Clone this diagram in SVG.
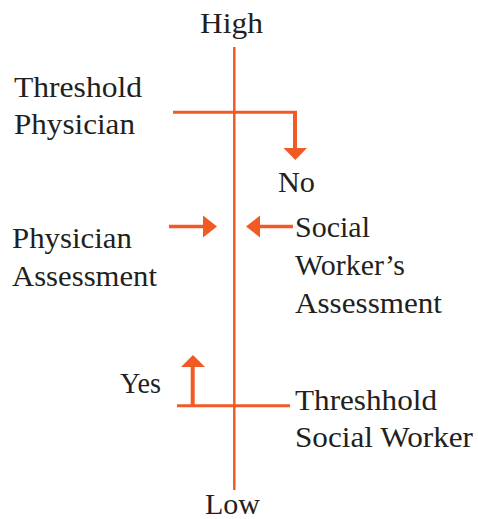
<svg xmlns="http://www.w3.org/2000/svg" width="478" height="519" viewBox="0 0 478 519">
  <style>
    .t { font-family: "Liberation Serif", "DejaVu Serif", serif; font-size: 30px; fill: #231f20; }
    .ln { stroke: #f15a24; fill: none; }
    .hd { fill: #f15a24; }
  </style>
  <rect width="478" height="519" fill="#ffffff"/>

  <g id="connectors">
    <!-- main scale axis -->
    <line class="ln" x1="234.3" y1="47" x2="234.3" y2="490" stroke-width="2.5"/>
    <!-- physician threshold bar and "No" arrow -->
    <line class="ln" x1="173" y1="112.3" x2="297" y2="112.3" stroke-width="3"/>
    <line class="ln" x1="295" y1="111" x2="295" y2="149" stroke-width="4"/>
    <polygon class="hd" points="283.5,148 307,148 295.3,160"/>
    <!-- assessments converging on the axis -->
    <line class="ln" x1="169" y1="226.5" x2="205" y2="226.5" stroke-width="3.5"/>
    <polygon class="hd" points="203,215.5 217,226.5 203,237.5"/>
    <line class="ln" x1="258" y1="226.5" x2="293" y2="226.5" stroke-width="3.5"/>
    <polygon class="hd" points="260,215.5 246,226.5 260,237.5"/>
    <!-- social worker threshold bar and "Yes" arrow -->
    <line class="ln" x1="177" y1="405.7" x2="290" y2="405.7" stroke-width="3"/>
    <line class="ln" x1="192.7" y1="407" x2="192.7" y2="366" stroke-width="4"/>
    <polygon class="hd" points="181,367 205,367 193,355"/>
  </g>

  <g id="high"><text class="t" x="200" y="33" textLength="63" lengthAdjust="spacingAndGlyphs">High</text></g>
  <g id="low"><text class="t" x="205" y="514" textLength="55" lengthAdjust="spacingAndGlyphs">Low</text></g>

  <g id="threshold-physician">
    <text class="t" x="14" y="97" textLength="128" lengthAdjust="spacingAndGlyphs">Threshold</text>
    <text class="t" x="14" y="134" textLength="121" lengthAdjust="spacingAndGlyphs">Physician</text>
  </g>
  <g id="no"><text class="t" x="278" y="192" textLength="37" lengthAdjust="spacingAndGlyphs">No</text></g>

  <g id="physician-assessment">
    <text class="t" x="12" y="248" textLength="120" lengthAdjust="spacingAndGlyphs">Physician</text>
    <text class="t" x="12" y="286" textLength="145" lengthAdjust="spacingAndGlyphs">Assessment</text>
  </g>

  <g id="social-worker-assessment">
    <text class="t" x="295" y="237" textLength="75" lengthAdjust="spacingAndGlyphs">Social</text>
    <text class="t" x="295" y="275" textLength="110" lengthAdjust="spacingAndGlyphs">Worker’s</text>
    <text class="t" x="295" y="313" textLength="147" lengthAdjust="spacingAndGlyphs">Assessment</text>
  </g>

  <g id="yes"><text class="t" x="120" y="393" textLength="41" lengthAdjust="spacingAndGlyphs">Yes</text></g>

  <g id="threshhold-social-worker">
    <text class="t" x="295" y="410" textLength="142" lengthAdjust="spacingAndGlyphs">Threshhold</text>
    <text class="t" x="295" y="447" textLength="178" lengthAdjust="spacingAndGlyphs">Social Worker</text>
  </g>
</svg>
